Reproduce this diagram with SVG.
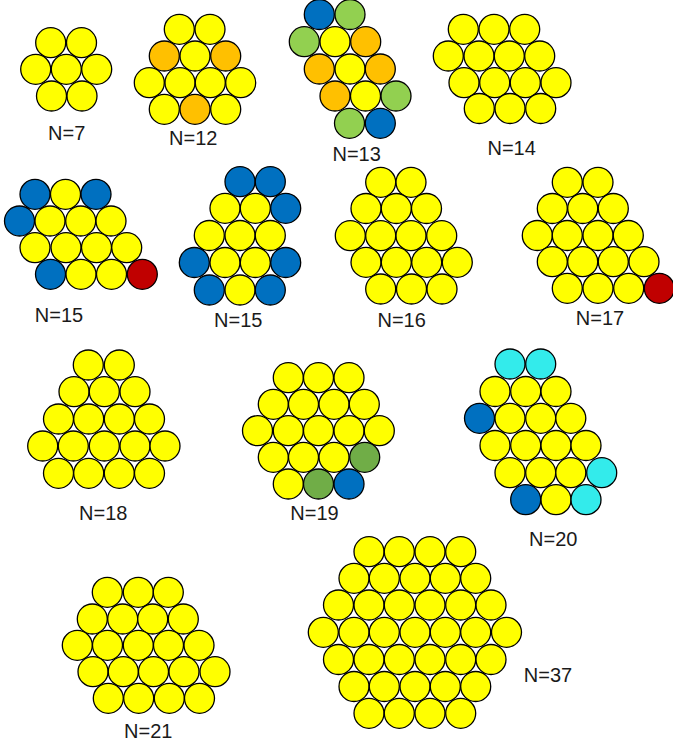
<svg xmlns="http://www.w3.org/2000/svg" width="673" height="746" viewBox="0 0 673 746">
<style>
circle{r:15px;stroke:#000;stroke-width:1.3;fill:#FFFF00}
.o{fill:#FFC000}.b{fill:#0070C0}.g{fill:#92D050}.dg{fill:#70AD47}.r{fill:#C00000}.c{fill:#33EBEB}
text{font-family:"Liberation Sans",Arial,sans-serif;font-size:20px;fill:#1a1a1a;text-anchor:middle}
</style>
<rect width="673" height="746" fill="#fff"/>
<g id="n7">
<circle cx="50.7" cy="42.7"/><circle cx="81.5" cy="42.7"/>
<circle cx="35.7" cy="69.3"/><circle cx="66.3" cy="69.3"/><circle cx="96.7" cy="69.3"/>
<circle cx="51.5" cy="96"/><circle cx="82" cy="96"/>
<text x="66.7" y="140">N=7</text>
</g>
<g id="n12">
<circle cx="179.3" cy="29.3"/><circle cx="210" cy="29.3"/>
<circle class="o" cx="164.3" cy="56"/><circle cx="195" cy="56"/><circle class="o" cx="225.7" cy="56"/>
<circle cx="149.3" cy="82.7"/><circle cx="180" cy="82.7"/><circle cx="210.3" cy="82.7"/><circle cx="240.7" cy="82.7"/>
<circle cx="164.3" cy="109.3"/><circle class="o" cx="195" cy="109.3"/><circle cx="225.7" cy="109.3"/>
<text x="193.3" y="145">N=12</text>
</g>
<g id="n13">
<circle class="b" cx="319.3" cy="14.5"/><circle class="g" cx="350" cy="14.5"/>
<circle class="g" cx="304.3" cy="41.7"/><circle cx="335" cy="41.7"/><circle class="o" cx="365.7" cy="41.7"/>
<circle class="o" cx="319.3" cy="69"/><circle cx="350" cy="69"/><circle class="o" cx="380.3" cy="69"/>
<circle class="o" cx="335" cy="96"/><circle cx="365.5" cy="96"/><circle class="g" cx="396" cy="96"/>
<circle class="g" cx="349.5" cy="123.3"/><circle class="b" cx="380.3" cy="123.3"/>
<text x="356.7" y="161">N=13</text>
</g>
<g id="n14">
<circle cx="463.3" cy="29.3"/><circle cx="494" cy="29.3"/><circle cx="524.7" cy="29.3"/>
<circle cx="448.3" cy="56"/><circle cx="479" cy="56"/><circle cx="509.3" cy="56"/><circle cx="539.7" cy="56"/>
<circle cx="464" cy="82.7"/><circle cx="494.7" cy="82.7"/><circle cx="525.3" cy="82.7"/><circle cx="556" cy="82.7"/>
<circle cx="479.3" cy="108.5"/><circle cx="510" cy="108.5"/><circle cx="540.7" cy="108.5"/>
<text x="511.7" y="155">N=14</text>
</g>
<g id="n15a">
<circle class="b" cx="35" cy="194.3"/><circle cx="65.5" cy="194.3"/><circle class="b" cx="96" cy="194.3"/>
<circle class="b" cx="19.5" cy="221"/><circle cx="50" cy="221"/><circle cx="80.7" cy="221"/><circle cx="111" cy="221"/>
<circle cx="35" cy="247.7"/><circle cx="66" cy="247.7"/><circle cx="96.5" cy="247.7"/><circle cx="126.7" cy="247.7"/>
<circle class="b" cx="50.5" cy="274.3"/><circle cx="81" cy="274.3"/><circle cx="111.5" cy="274.3"/><circle class="r" cx="142.3" cy="274.3"/>
<text x="59" y="322">N=15</text>
</g>
<g id="n15b">
<circle class="b" cx="240" cy="181.7"/><circle class="b" cx="270.3" cy="181.7"/>
<circle cx="225" cy="208.3"/><circle cx="255.3" cy="208.3"/><circle class="b" cx="285.7" cy="208.3"/>
<circle cx="209.3" cy="235.5"/><circle cx="240" cy="235.5"/><circle cx="270.3" cy="235.5"/>
<circle class="b" cx="194.3" cy="262.5"/><circle cx="225" cy="262.5"/><circle cx="255.3" cy="262.5"/><circle class="b" cx="285.7" cy="262.5"/>
<circle class="b" cx="209.3" cy="290"/><circle cx="240" cy="290"/><circle class="b" cx="270.3" cy="290"/>
<text x="238.3" y="327">N=15</text>
</g>
<g id="n16">
<circle cx="380.7" cy="182.3"/><circle cx="411" cy="182.3"/>
<circle cx="366" cy="208.5"/><circle cx="396.3" cy="208.5"/><circle cx="426.5" cy="208.5"/>
<circle cx="350.3" cy="235.7"/><circle cx="380.7" cy="235.7"/><circle cx="411" cy="235.7"/><circle cx="441.7" cy="235.7"/>
<circle cx="366" cy="262.3"/><circle cx="396.3" cy="262.3"/><circle cx="426.7" cy="262.3"/><circle cx="457.3" cy="262.3"/>
<circle cx="380.7" cy="289"/><circle cx="411.5" cy="289"/><circle cx="442" cy="289"/>
<text x="401.7" y="327">N=16</text>
</g>
<g id="n17">
<circle cx="567.3" cy="182.3"/><circle cx="598" cy="182.3"/>
<circle cx="552.3" cy="208.5"/><circle cx="582.7" cy="208.5"/><circle cx="613.3" cy="208.5"/>
<circle cx="537.3" cy="235.5"/><circle cx="567.3" cy="235.5"/><circle cx="598" cy="235.5"/><circle cx="628.3" cy="235.5"/>
<circle cx="552.3" cy="261.7"/><circle cx="582.7" cy="261.7"/><circle cx="613.3" cy="261.7"/><circle cx="644" cy="261.7"/>
<circle cx="567.3" cy="288.3"/><circle cx="598" cy="288.3"/><circle cx="628.7" cy="288.3"/><circle class="r" cx="659.3" cy="288.3"/>
<text x="600" y="325">N=17</text>
</g>
<g id="n18">
<circle cx="88.3" cy="365"/><circle cx="119.3" cy="365"/>
<circle cx="74" cy="391.7"/><circle cx="104.3" cy="391.7"/><circle cx="135" cy="391.7"/>
<circle cx="58.5" cy="419"/><circle cx="88.7" cy="419"/><circle cx="119.3" cy="419"/><circle cx="149.5" cy="419"/>
<circle cx="42.7" cy="446"/><circle cx="73.3" cy="446"/><circle cx="104.3" cy="446"/><circle cx="135" cy="446"/><circle cx="165" cy="446"/>
<circle cx="58.5" cy="473.3"/><circle cx="88.7" cy="473.3"/><circle cx="119.3" cy="473.3"/><circle cx="149.5" cy="473.3"/>
<text x="103.3" y="520">N=18</text>
</g>
<g id="n19">
<circle cx="288.3" cy="377.7"/><circle cx="318.5" cy="377.7"/><circle cx="349" cy="377.7"/>
<circle cx="273.3" cy="404.3"/><circle cx="303.5" cy="404.3"/><circle cx="334" cy="404.3"/><circle cx="364.3" cy="404.3"/>
<circle cx="257.5" cy="430.7"/><circle cx="288.3" cy="430.7"/><circle cx="318.5" cy="430.7"/><circle cx="349" cy="430.7"/><circle cx="379.3" cy="430.7"/>
<circle cx="273.3" cy="457.3"/><circle cx="303.5" cy="457.3"/><circle cx="334" cy="457.3"/><circle class="dg" cx="364.7" cy="457.3"/>
<circle cx="288.3" cy="484"/><circle class="dg" cx="318.5" cy="484"/><circle class="b" cx="349" cy="484"/>
<text x="314.5" y="520">N=19</text>
</g>
<g id="n20">
<circle class="c" cx="510" cy="364"/><circle class="c" cx="540.7" cy="364"/>
<circle cx="495" cy="391.5"/><circle cx="525.7" cy="391.5"/><circle cx="556" cy="391.5"/>
<circle class="b" cx="479.5" cy="418.3"/><circle cx="510" cy="418.3"/><circle cx="540.7" cy="418.3"/><circle cx="570.8" cy="418.3"/>
<circle cx="495" cy="445.5"/><circle cx="525.7" cy="445.5"/><circle cx="556" cy="445.5"/><circle cx="586" cy="445.5"/>
<circle cx="510" cy="472.7"/><circle cx="540.7" cy="472.7"/><circle cx="570.8" cy="472.7"/><circle class="c" cx="601.7" cy="472.7"/>
<circle class="b" cx="525.7" cy="499.7"/><circle cx="556" cy="499.7"/><circle class="c" cx="586" cy="499.7"/>
<text x="553.3" y="546">N=20</text>
</g>
<g id="n21">
<circle cx="107.3" cy="592.3"/><circle cx="138.3" cy="592.3"/><circle cx="168.3" cy="592.3"/>
<circle cx="92.3" cy="619"/><circle cx="122.7" cy="619"/><circle cx="152.7" cy="619"/><circle cx="183.3" cy="619"/>
<circle cx="77.3" cy="645.3"/><circle cx="107.5" cy="645.3"/><circle cx="138.3" cy="645.3"/><circle cx="168.5" cy="645.3"/><circle cx="199" cy="645.3"/>
<circle cx="93" cy="671.7"/><circle cx="123.3" cy="671.7"/><circle cx="153.5" cy="671.7"/><circle cx="184" cy="671.7"/><circle cx="215" cy="671.7"/>
<circle cx="108.3" cy="698.3"/><circle cx="138.7" cy="698.3"/><circle cx="169.3" cy="698.3"/><circle cx="199.5" cy="698.3"/>
<text x="148.3" y="738">N=21</text>
</g>
<g id="n37">
<circle cx="369" cy="551.7"/><circle cx="399.3" cy="551.7"/><circle cx="430" cy="551.7"/><circle cx="460.7" cy="551.7"/>
<circle cx="354" cy="578.3"/><circle cx="384.3" cy="578.3"/><circle cx="415" cy="578.3"/><circle cx="445.3" cy="578.3"/><circle cx="475.7" cy="578.3"/>
<circle cx="338.5" cy="605"/><circle cx="369" cy="605"/><circle cx="399.3" cy="605"/><circle cx="430" cy="605"/><circle cx="460.7" cy="605"/><circle cx="491" cy="605"/>
<circle cx="323.3" cy="632.3"/><circle cx="354" cy="632.3"/><circle cx="384.3" cy="632.3"/><circle cx="415" cy="632.3"/><circle cx="445.3" cy="632.3"/><circle cx="475.7" cy="632.3"/><circle cx="506.5" cy="632.3"/>
<circle cx="338.5" cy="659.5"/><circle cx="369" cy="659.5"/><circle cx="399.3" cy="659.5"/><circle cx="430" cy="659.5"/><circle cx="460.7" cy="659.5"/><circle cx="491" cy="659.5"/>
<circle cx="354" cy="686.5"/><circle cx="384.3" cy="686.5"/><circle cx="415" cy="686.5"/><circle cx="445.3" cy="686.5"/><circle cx="475.7" cy="686.5"/>
<circle cx="369" cy="713.3"/><circle cx="399.3" cy="713.3"/><circle cx="430" cy="713.3"/><circle cx="460.7" cy="713.3"/>
<text x="548" y="682">N=37</text>
</g>
</svg>
